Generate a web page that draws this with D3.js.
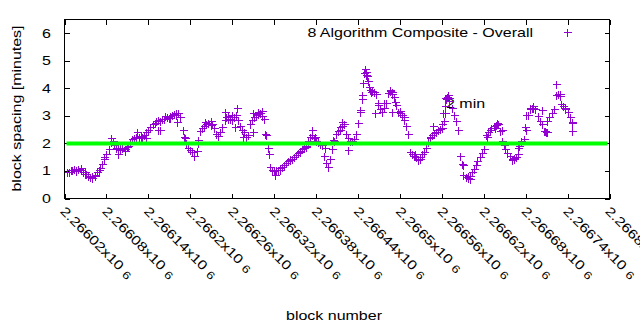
<!DOCTYPE html>
<html><head><meta charset="utf-8">
<script src="https://cdn.jsdelivr.net/npm/d3@7"></script>
<style>html,body{margin:0;padding:0;background:#fff}svg{display:block}</style>
</head><body>
<script>
const blocks = [2266023,2266026,2266029,2266031,2266034,2266037,2266040,2266043,2266046,2266049,2266051,2266054,2266057,2266060,2266063,2266066,2266069,2266071,2266074,2266077,2266080,2266083,2266086,2266089,2266091,2266094,2266097,2266100,2266103,2266106,2266109,2266111,2266114,2266117,2266120,2266123,2266126,2266129,2266131,2266134,2266137,2266140,2266143,2266146,2266149,2266151,2266154,2266157,2266160,2266163,2266166,2266169,2266171,2266174,2266177,2266180,2266183,2266186,2266189,2266191,2266194,2266197,2266200,2266203,2266206,2266209,2266211,2266214,2266217,2266220,2266223,2266226,2266229,2266231,2266234,2266237,2266240,2266243,2266246,2266249,2266251,2266254,2266257,2266260,2266263,2266266,2266269,2266271,2266274,2266277,2266280,2266283,2266286,2266289,2266291,2266294,2266297,2266300,2266303,2266306,2266309,2266311,2266314,2266317,2266320,2266323,2266326,2266329,2266331,2266334,2266337,2266340,2266343,2266346,2266349,2266351,2266354,2266357,2266360,2266363,2266366,2266369,2266371,2266374,2266377,2266380,2266383,2266386,2266389,2266391,2266394,2266397,2266400,2266403,2266406,2266409,2266411,2266414,2266417,2266420,2266423,2266426,2266429,2266431,2266434,2266437,2266440,2266443,2266446,2266447,2266449,2266450,2266451,2266453,2266454,2266456,2266457,2266460,2266463,2266466,2266469,2266471,2266474,2266477,2266480,2266483,2266486,2266489,2266491,2266494,2266497,2266500,2266503,2266506,2266509,2266511,2266514,2266517,2266520,2266523,2266526,2266529,2266531,2266534,2266537,2266540,2266543,2266546,2266549,2266551,2266554,2266557,2266560,2266563,2266564,2266566,2266569,2266571,2266574,2266577,2266580,2266583,2266586,2266589,2266591,2266594,2266597,2266600,2266603,2266606,2266609,2266611,2266614,2266617,2266620,2266623,2266626,2266629,2266631,2266634,2266637,2266640,2266643,2266646,2266649,2266651,2266654,2266657,2266660,2266663,2266666,2266669,2266671,2266674,2266677,2266680,2266683,2266686,2266689,2266691,2266694,2266697,2266700,2266703,2266706,2266709,2266711,2266714,2266717,2266720,2266723,2266724,2266726,2266729,2266731,2266734,2266737,2266740,2266743,2266746,2266747];
const spacing = [0.95,0.98,1.02,1.05,1.08,1.04,1.07,1.02,0.95,0.90,0.88,0.82,0.78,0.80,0.86,0.95,1.02,1.12,1.25,1.42,1.60,1.78,2.05,2.10,1.95,1.85,1.80,1.75,1.82,1.78,1.88,1.90,2.05,2.15,2.20,2.25,2.22,2.18,2.25,2.30,2.40,2.50,2.60,2.70,2.75,2.82,2.85,2.80,2.88,2.90,2.95,2.92,3.00,3.05,3.08,3.05,3.10,2.95,2.50,2.25,2.00,1.82,1.75,1.68,1.55,1.72,2.00,2.45,2.55,2.62,2.70,2.75,2.80,2.70,2.55,2.35,2.28,2.40,2.60,2.85,2.95,3.00,2.90,2.85,2.95,3.05,2.85,2.65,2.50,2.40,2.25,2.30,2.70,2.85,2.95,3.05,3.15,3.10,3.00,2.90,2.30,1.85,1.15,1.05,1.00,1.02,1.05,1.10,1.15,1.20,1.28,1.35,1.42,1.45,1.52,1.58,1.65,1.72,1.78,1.82,1.88,2.10,2.22,2.30,2.20,2.10,2.05,1.98,1.95,1.55,1.30,1.15,1.45,1.80,2.10,2.35,2.45,2.50,2.62,2.70,2.35,2.20,2.08,2.10,2.15,2.35,2.75,3.15,3.60,4.20,4.55,4.70,4.60,4.45,4.25,4.05,3.95,3.92,3.85,3.78,3.40,3.25,3.15,3.30,3.45,3.82,3.90,3.85,3.70,3.40,3.15,3.12,3.05,2.85,2.65,2.35,1.70,1.62,1.55,1.52,1.45,1.42,1.60,1.70,1.85,2.05,2.20,2.30,2.38,2.42,2.48,2.52,2.55,2.80,3.35,3.60,3.75,3.65,3.30,3.05,2.80,2.50,1.55,1.25,0.85,0.78,0.75,0.82,0.95,1.08,1.22,1.35,1.50,1.65,1.80,2.30,2.40,2.48,2.55,2.62,2.68,2.72,2.45,2.10,1.95,1.80,1.65,1.55,1.45,1.42,1.50,1.62,1.90,2.08,2.15,2.50,3.05,3.25,3.30,3.35,3.25,3.00,2.80,2.70,2.45,2.42,2.80,2.95,3.10,3.25,3.75,4.15,3.80,3.78,3.42,3.35,3.25,3.15,2.95,2.75,2.45];
// additional scattered readings (outliers and dense clusters)
const blocksExtra = [2266076,2266086,2266097,2266124,2266139,2266147,2266154,2266157,2266181,2266193,2266211,2266250,2266264,2266267,2266276,2266290,2266290,2266307,2266313,2266321,2266374,2266393,2266404,2266417,2266426,2266443,2266446,2266464,2266469,2266477,2266489,2266493,2266547,2266560,2266564,2266564,2266561,2266586,2266590,2266624,2266646,2266669,2266679,2266681,2266703,2266746,2266036,2266043,2266050,2266060,2266064,2266100,2266107,2266129,2266136,2266164,2266171,2266179,2266221,2266229,2266254,2266260,2266297,2266303,2266329,2266343,2266357,2266366,2266379,2266414,2266451,2266459,2266486,2266489,2266500,2266506,2266521,2266526,2266529,2266543,2266567,2266570,2266597,2266600,2266636,2266639,2266660,2266664,2266686,2266691,2266707,2266711,2266729,2266736];
const spacingExtra = [1.50,2.18,1.62,2.41,2.47,2.72,2.47,2.47,2.78,2.18,2.11,3.14,2.60,3.27,2.23,3.09,2.41,2.35,1.62,0.84,2.47,1.82,2.11,2.78,1.75,3.20,3.75,3.09,3.45,3.45,3.14,3.50,2.65,2.72,3.64,3.09,3.09,1.56,1.20,2.23,2.47,1.82,2.60,3.02,3.20,2.78,1.00,1.10,0.95,0.75,0.82,1.85,1.72,2.28,2.20,2.98,2.92,3.12,2.78,2.68,2.90,3.02,3.08,3.18,1.05,1.38,1.68,1.92,2.25,2.58,4.50,3.88,3.95,3.80,3.18,2.95,1.62,1.38,1.50,2.25,3.70,3.55,0.80,0.72,2.55,2.75,1.38,1.48,3.30,3.28,2.45,2.42,3.72,3.30];
const xTicks = [2266020,2266080,2266140,2266200,2266260,2266320,2266380,2266440,2266500,2266560,2266620,2266680,2266740,2266800];
const xTickLabels = ["2.26602","2.26608","2.26614","2.2662","2.26626","2.26632","2.26638","2.26644","2.2665","2.26656","2.26662","2.26668","2.26674","2.2668"];
const yTicks = [0,1,2,3,4,5,6];
const refLevel = 2;
const seriesName = "8 Algorithm Composite - Overall";
const refName = "2 min";

const W = 640, H = 330;
const L = 64.5, R = 609.5, T = 19.5, B = 198.5;
const FS = 13, SX = 1.23;
const FONT = "'Liberation Sans', Arial, sans-serif";
const svg = d3.select("body").append("svg").attr("width", W).attr("height", H);
const x = d3.scaleLinear().domain([2266020, 2266800]).range([L, R]);
const y = d3.scaleLinear().domain([0, 6.5]).range([B, T]);

function txt(g, px, py, rot, s, anchor) {
  const t = g.append("text")
    .attr("transform", `translate(${px},${py}) rotate(${rot}) scale(${SX},1)`)
    .attr("font-family", FONT).attr("font-size", FS).attr("fill", "#000")
    .attr("text-anchor", anchor || "start");
  t.text(s);
  return t;
}

// axes with inward ticks (gnuplot style)
const axB = d3.axisBottom(x).tickValues(xTicks).tickSize(-5).tickFormat("");
const axT = d3.axisTop(x).tickValues(xTicks).tickSize(-5).tickFormat("");
const axL = d3.axisLeft(y).tickValues(yTicks).tickSize(-5).tickFormat("");
const axR = d3.axisRight(y).tickValues(yTicks).tickSize(-5).tickFormat("");
svg.append("g").attr("transform", `translate(0,${B})`).call(axB);
svg.append("g").attr("transform", `translate(0,${T})`).call(axT);
svg.append("g").attr("transform", `translate(${L},0)`).call(axL);
svg.append("g").attr("transform", `translate(${R},0)`).call(axR);
svg.selectAll(".domain").remove();
svg.selectAll(".tick line").attr("stroke", "#000").attr("shape-rendering", "crispEdges");

// y tick labels
const gl = svg.append("g");
yTicks.forEach(v => txt(gl, 51, y(v) + 4.5, 0, String(v), "end"));

// x tick labels rotated
xTicks.forEach((v, i) => {
  const t = txt(gl, x(v) - 5, 212, 45, xTickLabels[i] + "x10", "start");
  t.append("tspan").attr("dx", 4).attr("dy", 1).attr("font-size", 11).text("6");
});

// axis titles
txt(gl, 21, 108.5, -90, "block spacing [minutes]", "middle");
txt(gl, 334, 320, 0, "block number", "middle");

// label "2 min"
txt(gl, 446, 108, 0, refName, "start");

// clip
svg.append("clipPath").attr("id", "clip").append("rect")
  .attr("x", L).attr("y", T).attr("width", R - L).attr("height", B - T);

// points
const allPts = blocks.map((b, i) => [b, spacing[i]])
  .concat(blocksExtra.map((b, i) => [b, spacingExtra[i]]));
const plus = "M-4,0H4M0,-4V4";
svg.append("g").attr("clip-path", "url(#clip)")
  .selectAll("path").data(allPts).join("path")
  .attr("d", plus)
  .attr("transform", d => `translate(${Math.round(x(d[0])) + 0.5},${Math.round(y(d[1])) + 0.5})`)
  .attr("stroke", "#9400d3").attr("stroke-width", 1).attr("fill", "none")
  .attr("shape-rendering", "crispEdges");

// reference line
svg.append("line").attr("clip-path", "url(#clip)")
  .attr("x1", x(2266020) + 2).attr("x2", x(2266800) - 2)
  .attr("y1", y(refLevel)).attr("y2", y(refLevel))
  .attr("stroke", "#00ff00").attr("stroke-width", 4);

// legend
txt(gl, 533, 37, 0, seriesName, "end");
svg.append("path").attr("d", plus).attr("transform", "translate(567.5,32.5)")
  .attr("stroke", "#9400d3").attr("fill", "none").attr("shape-rendering", "crispEdges");

// border
svg.append("rect").attr("x", L).attr("y", T).attr("width", R - L).attr("height", B - T)
  .attr("fill", "none").attr("stroke", "#000").attr("shape-rendering", "crispEdges");
</script>
</body></html>
